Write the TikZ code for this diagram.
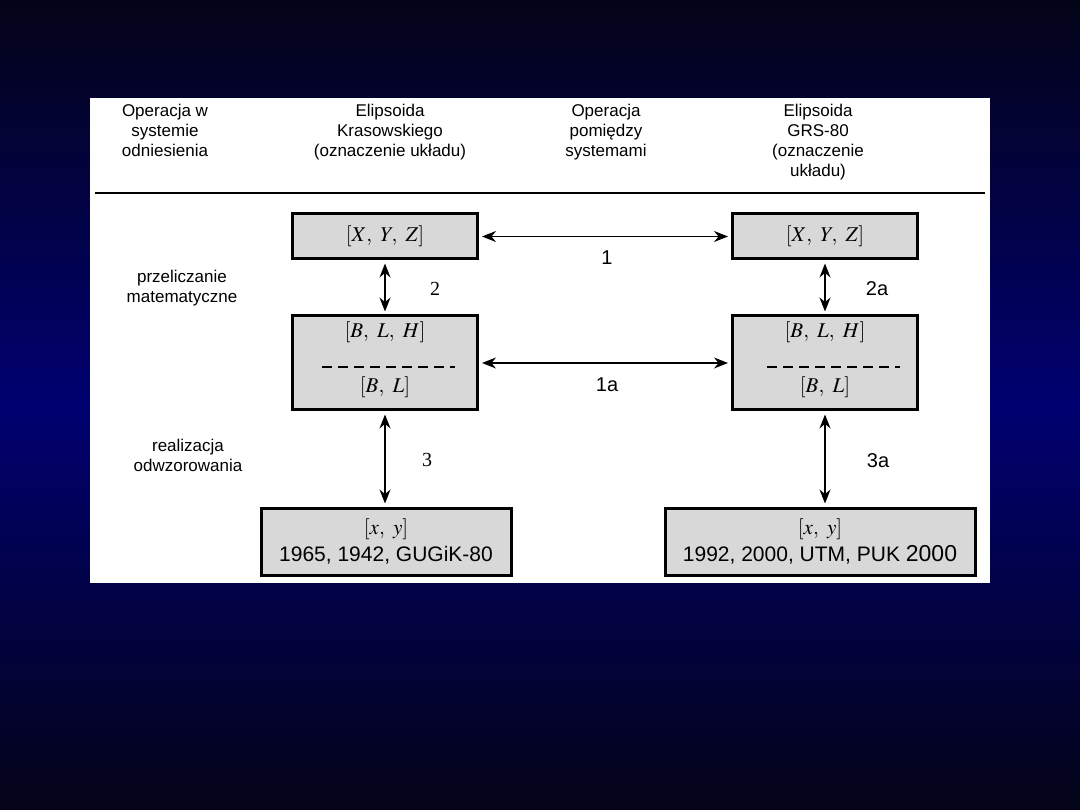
\documentclass[tikz,border=0pt]{standalone}
\usepackage{mathptmx}
\usepackage[no-math]{fontspec}
\setmainfont{Liberation Sans}
\newfontfamily\serifnum{Liberation Serif}
\usetikzlibrary{arrows.meta}
\definecolor{bgtop}{RGB}{4,4,24}
\definecolor{bgmid}{RGB}{0,0,112}
\definecolor{boxgray}{RGB}{216,216,216}

\begin{document}
\begin{tikzpicture}[x=1pt, y=-1pt,
            box/.style={draw, line width=3pt, fill=boxgray, inner sep=0pt},
            head/.style={align=center, anchor=north, font=\fontsize{17}{20}\selectfont},
            side/.style={align=center, font=\fontsize{17}{20}\selectfont},
            boxtext/.style={align=center, font=\fontsize{21}{27}\selectfont},
            num/.style={font=\fontsize{20}{24}\selectfont},
            link/.style={{Stealth[length=14pt,width=11pt]}-{Stealth[length=14pt,width=11pt]}, line width=1.2pt, shorten <=3pt, shorten >=3pt}
            ]
            \useasboundingbox (0,0) rectangle (1080,810);
            \shade[top color=bgtop, bottom color=bgtop, middle color=bgmid] (0,0) rectangle (1080,810);
            \fill[white] (90,98) rectangle (990,583);

            \node[head] (h1) at (165,101) {Operacja w\\systemie\\odniesienia};
            \node[head] (h2) at (390,101) {Elipsoida\\Krasowskiego\\(oznaczenie układu)};
            \node[head] (h3) at (606,101) {Operacja\\pomiędzy\\systemami};
            \node[head] (h4) at (818,101) {Elipsoida\\GRS-80\\(oznaczenie\\układu)};
            \draw[line width=1.2pt] (95,193) -- (985,193);

            \node[side] (s1) at (182,288) {przeliczanie\\matematyczne};
            \node[side] (s2) at (188,455) {realizacja\\odwzorowania};

            \node[box, boxtext, minimum width=185pt, minimum height=45pt] (xyzl) at (385,236.5) {$[X,\ Y,\ Z]$};
            \node[box, boxtext, minimum width=185pt, minimum height=45pt] (xyzr) at (825,236.5) {$[X,\ Y,\ Z]$};

            \node[box, minimum width=185pt, minimum height=94pt] (blhl) at (385,363) {};
            \node[boxtext] (blhl1) at (385,332) {$[B,\ L,\ H]$};
            \node[boxtext] (blhl2) at (385,387) {$[B,\ L]$};
            \node[box, minimum width=185pt, minimum height=94pt] (blhr) at (825,363) {};
            \node[boxtext] (blhr1) at (825,332) {$[B,\ L,\ H]$};
            \node[boxtext] (blhr2) at (825,387) {$[B,\ L]$};
            \draw[line width=2.5pt, dash pattern=on 10pt off 6pt] (322,367) -- (455,367);
            \draw[line width=2.5pt, dash pattern=on 10pt off 6pt] (767,367) -- (900,367);

            \node[box, boxtext, minimum width=250pt, minimum height=67pt] (xyl) at (386,541.5) {$[x,\ y]$\\1965, 1942, GUGiK-80};
            \node[box, boxtext, minimum width=310pt, minimum height=67pt] (xyr) at (820,541.5) {$[x,\ y]$\\1992, 2000, UTM, PUK {\fontsize{23}{27}\selectfont 2000}};

            \draw[link] (xyzl) -- (xyzr);
            \draw[link] (blhl) -- (blhr);
            \draw[link] (xyzl) -- (blhl);
            \draw[link] (xyzr) -- (blhr);
            \draw[link] (blhl.south) -- (blhl.south |- xyl.north);
            \draw[link] (blhr.south) -- (blhr.south |- xyr.north);

            \node[num] (n1) at (607,258) {1};
            \node[num] (n1a) at (607,385) {1a};
            \node[num, font=\fontsize{20}{24}\serifnum] (n2) at (435,289) {2};
            \node[num] (n2a) at (877,289) {2a};
            \node[num, font=\fontsize{20}{24}\serifnum] (n3) at (427,460) {3};
            \node[num] (n3a) at (878,461) {3a};
\end{tikzpicture}
\end{document}
